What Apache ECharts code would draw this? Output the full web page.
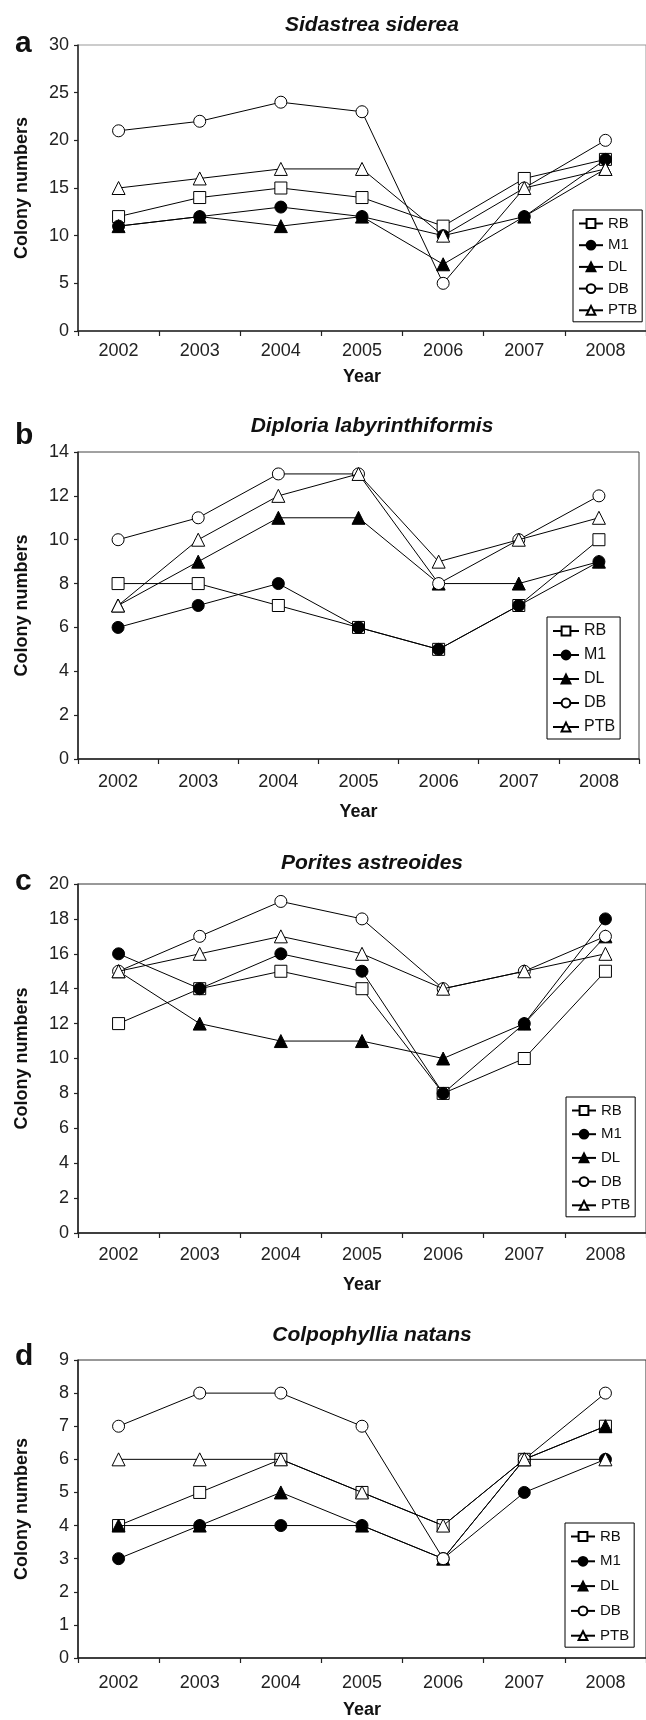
<!DOCTYPE html>
<html>
<head>
<meta charset="utf-8">
<script src="https://cdn.jsdelivr.net/npm/echarts@6/dist/echarts.min.js"></script>
<style>
html, body { margin: 0; padding: 0; background: #fff; }
#chart { width: 646px; height: 1720px; }
</style>
</head>
<body>
<div id="chart"></div>
<script>
var years = ['2002', '2003', '2004', '2005', '2006', '2007', '2008'];
var siteNames = ['RB', 'M1', 'DL', 'DB', 'PTB'];
var speciesNames = ['Sidastrea siderea', 'Diploria labyrinthiformis', 'Porites astreoides', 'Colpophyllia natans'];
var panelLetters = ['a', 'b', 'c', 'd'];
var yMax = [30, 14, 20, 9];
var yStep = [5, 2, 2, 1];

// a - Sidastrea siderea
var sidRB  = [12, 14, 15, 14, 11, 16, 18];
var sidM1  = [11, 12, 13, 12, 10, 12, 18];
var sidDL  = [11, 12, 11, 12, 7, 12, 17];
var sidDB  = [21, 22, 24, 23, 5, 15, 20];
var sidPTB = [15, 16, 17, 17, 10, 15, 17];

// b - Diploria labyrinthiformis
var dipRB  = [8, 8, 7, 6, 5, 7, 10];
var dipM1  = [6, 7, 8, 6, 5, 7, 9];
var dipDL  = [7, 9, 11, 11, 8, 8, 9];
var dipDB  = [10, 11, 13, 13, 8, 10, 12];
var dipPTB = [7, 10, 12, 13, 9, 10, 11];

// c - Porites astreoides
var porRB  = [12, 14, 15, 14, 8, 10, 15];
var porM1  = [16, 14, 16, 15, 8, 12, 18];
var porDL  = [15, 12, 11, 11, 10, 12, 17];
var porDB  = [15, 17, 19, 18, 14, 15, 17];
var porPTB = [15, 16, 17, 16, 14, 15, 16];

// d - Colpophyllia natans
var colRB  = [4, 5, 6, 5, 4, 6, 7];
var colM1  = [3, 4, 4, 4, 3, 5, 6];
var colDL  = [4, 4, 5, 4, 3, 6, 7];
var colDB  = [7, 8, 8, 7, 3, 6, 8];
var colPTB = [6, 6, 6, 5, 4, 6, 6];

var panelData = [
    [sidRB, sidM1, sidDL, sidDB, sidPTB],
    [dipRB, dipM1, dipDL, dipDB, dipPTB],
    [porRB, porM1, porDL, porDB, porPTB],
    [colRB, colM1, colDL, colDB, colPTB]
];

// symbol / fill per site
var siteSymbol = ['rect', 'circle', 'triangle', 'circle', 'triangle'];
var siteFill = ['#fff', '#000', '#000', '#fff', '#fff'];

var FONT = 'Liberation Sans, Arial, sans-serif';

// placement of the four panels
var layout = [
    { top: 45,   height: 286, width: 577, border: '#999', titleTop: 15,   letterY: 44,   lblMargin: 11, yearGap: 37,
      lgLeft: 573, lgTop: 210,  lgGap: 6.7, lgFont: 15, lgW: 24 },
    { top: 452,  height: 307, width: 561, border: '#444', titleTop: 416,  letterY: 436,  lblMargin: 14, yearGap: 44,
      lgLeft: 547, lgTop: 617,  lgGap: 8,   lgFont: 16, lgW: 26 },
    { top: 884,  height: 349, width: 577, border: '#333', titleTop: 853,  letterY: 882,  lblMargin: 13, yearGap: 43,
      lgLeft: 566, lgTop: 1097, lgGap: 8.7, lgFont: 15, lgW: 24 },
    { top: 1360, height: 298, width: 577, border: '#333', titleTop: 1325, letterY: 1357, lblMargin: 16, yearGap: 43,
      lgLeft: 565, lgTop: 1523, lgGap: 9.8, lgFont: 15, lgW: 24 }
];

var myChart = echarts.init(document.getElementById('chart'));

var titles = [], grids = [], xAxes = [], yAxes = [], legends = [], series = [], graphics = [];

for (var p = 0; p < 4; p++) {
    var L = layout[p];
    titles.push({
        text: speciesNames[p],
        left: 372,
        top: L.titleTop,
        textAlign: 'center',
        padding: 0,
        textStyle: { fontFamily: FONT, fontSize: 21, fontWeight: 'bold', fontStyle: 'italic', color: '#111' }
    });
    graphics.push({
        type: 'text',
        x: 15,
        y: L.letterY,
        style: { text: panelLetters[p], font: 'bold 30px ' + FONT, fill: '#111', textAlign: 'left', textVerticalAlign: 'middle' }
    });
    grids.push({
        left: 78, top: L.top, width: L.width, height: L.height,
        show: true, borderColor: L.border, borderWidth: 1
    });
    xAxes.push({
        type: 'category',
        gridIndex: p,
        data: years,
        boundaryGap: true,
        name: 'Year',
        nameLocation: 'middle',
        nameGap: L.yearGap,
        nameTextStyle: { fontFamily: FONT, fontSize: 18, fontWeight: 'bold', color: '#111' },
        axisLine: { lineStyle: { color: '#222', width: 1.5 } },
        axisTick: { show: true, length: 5, lineStyle: { color: '#222', width: 1.2 } },
        axisLabel: { fontFamily: FONT, fontSize: 18, color: '#222', margin: L.lblMargin },
        splitLine: { show: false }
    });
    yAxes.push({
        type: 'value',
        gridIndex: p,
        min: 0,
        max: yMax[p],
        interval: yStep[p],
        name: 'Colony numbers',
        nameLocation: 'middle',
        nameGap: 47,
        nameTextStyle: { fontFamily: FONT, fontSize: 18, fontWeight: 'bold', color: '#111' },
        axisLine: { show: true, lineStyle: { color: '#222', width: 1.5 } },
        axisTick: { show: true, length: 4, lineStyle: { color: '#222', width: 1.2 } },
        axisLabel: { fontFamily: FONT, fontSize: 18, color: '#222', margin: 9 },
        splitLine: { show: false }
    });
    legends.push({
        orient: 'vertical',
        left: L.lgLeft,
        top: L.lgTop,
        data: siteNames,
        itemWidth: L.lgW,
        itemHeight: 11,
        itemGap: L.lgGap,
        padding: [6, 5, 4, 5],
        borderColor: '#000',
        borderWidth: 1,
        backgroundColor: '#fff',
        selectedMode: false,
        textStyle: { fontFamily: FONT, fontSize: L.lgFont, color: '#111' }
    });
    for (var s = 0; s < siteNames.length; s++) {
        series.push({
            name: siteNames[s],
            type: 'line',
            xAxisIndex: p,
            yAxisIndex: p,
            data: panelData[p][s],
            symbol: siteSymbol[s],
            symbolSize: siteSymbol[s] === 'triangle' ? 13 : 12,
            showAllSymbol: true,
            lineStyle: { color: '#000', width: 1 },
            itemStyle: { color: siteFill[s], borderColor: '#000', borderWidth: 1, opacity: 1 },
            emphasis: { disabled: true },
            z: 2 + s
        });
    }
}

var option = {
    animation: false,
    backgroundColor: '#fff',
    title: titles,
    grid: grids,
    xAxis: xAxes,
    yAxis: yAxes,
    legend: legends,
    graphic: graphics,
    series: series
};
myChart.setOption(option);
</script>
</body>
</html>
